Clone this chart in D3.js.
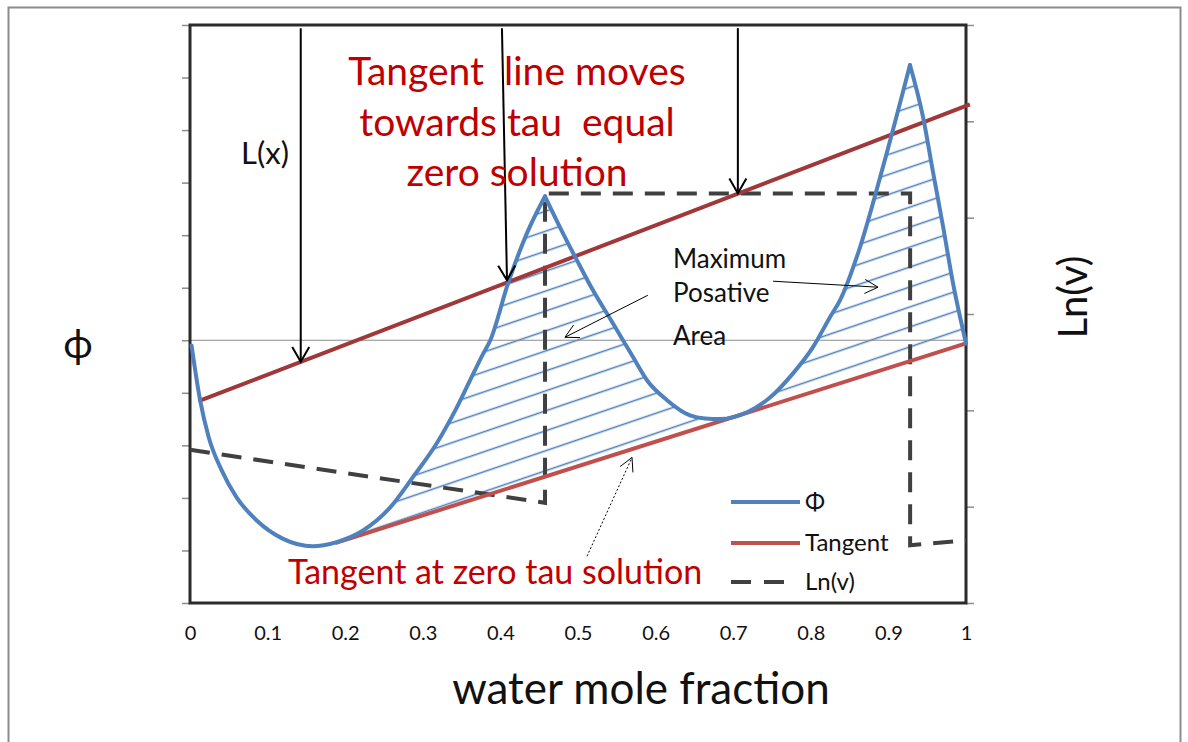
<!DOCTYPE html>
<html>
<head>
<meta charset="utf-8">
<script src="https://cdn.jsdelivr.net/npm/d3@7"></script>
<style>
  body { margin: 0; background: #fff; }
  svg { display: block; }
  text { font-family: Lato, "Open Sans", "Liberation Sans", sans-serif; }
</style>
</head>
<body>
<svg id="chart" width="1188" height="742"></svg>
<script>
// ---- data -------------------------------------------------------------
// Φ(x) against water mole fraction, in three branches split at the two cusps
const phiBranch1X = [0.002, 0.013, 0.024, 0.041, 0.060, 0.086, 0.120, 0.158, 0.189, 0.223, 0.258, 0.287, 0.318, 0.342, 0.361, 0.378, 0.387, 0.410, 0.434, 0.4575];
const phiBranch1Y = [-0.10, -1.14, -1.84, -2.48, -2.99, -3.43, -3.78, -3.92, -3.84, -3.62, -3.18, -2.61, -1.96, -1.33, -0.76, -0.25, 0.00, 1.09, 2.03, 2.74];
const phiBranch2X = [0.4575, 0.4768, 0.4987, 0.5193, 0.5451, 0.5709, 0.5889, 0.6147, 0.6443, 0.6637, 0.6830, 0.7178, 0.7474, 0.7771, 0.8028, 0.8247, 0.8376, 0.8634, 0.8930, 0.9278];
const phiBranch2Y = [2.74, 2.15, 1.52, 0.95, 0.32, -0.32, -0.76, -1.14, -1.43, -1.49, -1.50, -1.37, -1.09, -0.63, -0.13, 0.44, 0.76, 1.77, 3.30, 5.24];
const phiBranch3X = [0.9278, 0.9446, 0.9575, 0.9704, 0.9832, 1.0];
const phiBranch3Y = [5.24, 4.25, 3.20, 2.17, 1.09, -0.06];

// tangent at the zero-tau solution (lower) and the moving tangent L(x) (upper)
const tangentZeroX = [0.187, 1.0];
const tangentZeroY = [-3.86, -0.06];
const tangentMovingX = [0.011, 1.005];
const tangentMovingY = [-1.16, 4.49];

// ln(v), read on the right-hand axis
const lnvX = [0, 0.4575, 0.4575, 0.928, 0.928, 1.0];
const lnvY = [1.59, 1.04, 4.25, 4.25, 0.60, 0.65];

// axis ticks
const xTickValues = [0, 0.1, 0.2, 0.3, 0.4, 0.5, 0.6, 0.7, 0.8, 0.9, 1];
const leftTickValues = [-5, -4, -3, -2, -1, 0, 1, 2, 3, 4, 5, 6];
const rightTickValues = [0, 1, 2, 3, 4, 5, 6];

// vertical L(x) arrows: x position, start and tip (Φ units)
const lArrowX0 = [0.1427, 0.402, 0.706];
const lArrowX1 = [0.1427, 0.4085, 0.706];
const lArrowY0 = [5.94, 5.94, 5.94];
const lArrowY1 = [-0.41, 1.14, 2.80];

// ---- layout -----------------------------------------------------------
const svg = d3.select("#chart");
const plot = { left: 190, top: 25, right: 966, bottom: 603 };

const x = d3.scaleLinear().domain([0, 1]).range([plot.left, plot.right]);
const yL = d3.scaleLinear().domain([-5, 6]).range([plot.bottom, plot.top]);
const yR = d3.scaleLinear().domain([0, 6]).range([plot.bottom, plot.top]);

const colors = {
  phi: "#4F81BD",
  tangent: "#C0504D",
  moving: "#A0383A",
  lnv: "#404040",
  note: "#C00000"
};

// outer frame of the figure
svg.append("rect")
  .attr("x", 8.5).attr("y", 7.5).attr("width", 1172).attr("height", 760)
  .attr("fill", "#fff").attr("stroke", "#8c8c8c").attr("stroke-width", 2);

const defs = svg.append("defs");

// hatch used for the positive area between Φ and the zero-tau tangent
const hatchAngle = Math.atan(-0.34) * 180 / Math.PI;
const hatch = defs.append("pattern")
  .attr("id", "hatch")
  .attr("patternUnits", "userSpaceOnUse")
  .attr("width", 200).attr("height", 18.9)
  .attr("patternTransform", `rotate(${hatchAngle})`);
hatch.append("rect")
  .attr("x", 0).attr("y", 15.7).attr("width", 200).attr("height", 1.6)
  .attr("fill", colors.phi);

const zip = (xs, ys) => xs.map((v, i) => [v, ys[i]]);
const branches = [
  zip(phiBranch1X, phiBranch1Y),
  zip(phiBranch2X, phiBranch2Y),
  zip(phiBranch3X, phiBranch3Y)
];

const phiLine = d3.line()
  .x(d => x(d[0])).y(d => yL(d[1]))
  .curve(d3.curveMonotoneX);

// region between Φ and the zero-tau tangent
const tz = zip(tangentZeroX, tangentZeroY);
const regionParts = [
  branches[0].filter(d => d[0] >= tangentZeroX[0]),
  branches[1],
  branches[2]
].map((pts, i) => {
  const d = phiLine(pts);
  return i === 0 ? d : "L" + d.slice(1);
});
const regionPath = regionParts.join("") +
  `L${x(tz[1][0])},${yL(tz[1][1])}L${x(tz[0][0])},${yL(tz[0][1])}Z`;

defs.append("clipPath").attr("id", "areaClip")
  .append("path").attr("d", regionPath);

svg.append("rect")
  .attr("x", plot.left).attr("y", plot.top)
  .attr("width", plot.right - plot.left).attr("height", plot.bottom - plot.top)
  .attr("fill", "url(#hatch)")
  .attr("clip-path", "url(#areaClip)");

// zero line of Φ
svg.append("line")
  .attr("x1", plot.left).attr("x2", plot.right)
  .attr("y1", yL(0)).attr("y2", yL(0))
  .attr("stroke", "#8c8c8c").attr("stroke-width", 1.2);

// axes
const axisL = svg.append("g")
  .attr("transform", `translate(${plot.left},0)`)
  .call(d3.axisLeft(yL).tickValues(leftTickValues).tickSize(8).tickFormat(""));
const axisR = svg.append("g")
  .attr("transform", `translate(${plot.right},0)`)
  .call(d3.axisRight(yR).tickValues(rightTickValues).tickSize(8).tickFormat(""));
const axisB = svg.append("g")
  .attr("transform", `translate(0,${plot.bottom})`)
  .call(d3.axisBottom(x).tickValues(xTickValues).tickSize(0).tickPadding(23)
    .tickFormat(d3.format("")));
[axisL, axisR, axisB].forEach(g => {
  g.select(".domain").remove();
  g.selectAll(".tick line").attr("stroke", "#8c8c8c").attr("stroke-width", 1.5);
});
axisB.selectAll(".tick text")
  .attr("font-family", "Lato, sans-serif").attr("font-size", 20).attr("fill", "#111");

// plot frame
svg.append("rect")
  .attr("x", plot.left).attr("y", plot.top)
  .attr("width", plot.right - plot.left).attr("height", plot.bottom - plot.top)
  .attr("fill", "none").attr("stroke", "#2b2b2b").attr("stroke-width", 3);

// ln(v) step line
const lnvLine = d3.line().x(d => x(d[0])).y(d => yR(d[1]));
svg.append("path")
  .attr("d", lnvLine(zip(lnvX, lnvY)))
  .attr("fill", "none").attr("stroke", colors.lnv)
  .attr("stroke-width", 4).attr("stroke-dasharray", "20 12");

// tangents
const straight = d3.line().x(d => x(d[0])).y(d => yL(d[1]));
svg.append("path")
  .attr("d", straight(zip(tangentMovingX, tangentMovingY)))
  .attr("fill", "none").attr("stroke", colors.moving).attr("stroke-width", 4);
svg.append("path")
  .attr("d", straight(tz))
  .attr("fill", "none").attr("stroke", colors.tangent).attr("stroke-width", 4);

// Φ curve
branches.forEach(pts => {
  svg.append("path")
    .attr("d", phiLine(pts))
    .attr("fill", "none").attr("stroke", colors.phi)
    .attr("stroke-width", 4).attr("stroke-linejoin", "round").attr("stroke-linecap", "round");
});

// open arrow helper
function arrow(x0, y0, x1, y1, opts = {}) {
  const g = svg.append("g")
    .attr("stroke", opts.color || "#000")
    .attr("stroke-width", opts.width || 2)
    .attr("fill", "none");
  const line = g.append("line")
    .attr("x1", x0).attr("y1", y0).attr("x2", x1).attr("y2", y1);
  if (opts.dash) line.attr("stroke-dasharray", opts.dash);
  const len = opts.head || 17, ang = (opts.angle || 30) * Math.PI / 180;
  const a = Math.atan2(y0 - y1, x0 - x1);
  g.append("path")
    .attr("d", `M${x1 + len * Math.cos(a + ang)},${y1 + len * Math.sin(a + ang)}` +
               `L${x1},${y1}` +
               `L${x1 + len * Math.cos(a - ang)},${y1 + len * Math.sin(a - ang)}`)
    .attr("stroke-width", opts.headWidth || opts.width || 2);
}

lArrowX0.forEach((v, i) => {
  arrow(x(v), yL(lArrowY0[i]), x(lArrowX1[i]), yL(lArrowY1[i]), { width: 2, head: 17, angle: 30 });
});

// "Maximum Posative Area" pointers
arrow(x(0.590), yL(0.857), x(0.4832), yL(0.057), { width: 1, head: 15, angle: 28 });
arrow(x(0.7513), yL(1.124), x(0.8866), yL(1.01), { width: 1, head: 15, angle: 28 });
// pointer to the zero-tau tangent
arrow(x(0.5116), yL(-4.11), x(0.5696), yL(-2.23), { width: 1, head: 15, angle: 28, dash: "2 2", headWidth: 1 });

// annotations
svg.append("text").attr("x", 241).attr("y", 164)
  .attr("font-size", 31).attr("fill", "#111").text("L(x)");

const title = svg.append("text")
  .attr("text-anchor", "middle").attr("font-size", 39).attr("fill", colors.note);
["Tangent  line moves", "towards tau  equal", "zero solution"].forEach((t, i) => {
  title.append("tspan").attr("x", 517).attr("y", 85 + i * 50.5)
    .attr("xml:space", "preserve").style("white-space", "pre").text(t);
});

const maxText = svg.append("text").attr("font-size", 26).attr("fill", "#111");
[["Maximum", 268], ["Posative", 302], ["Area", 345]].forEach(([t, yy]) => {
  maxText.append("tspan").attr("x", 673).attr("y", yy).text(t);
});

svg.append("text").attr("x", 288).attr("y", 584)
  .attr("font-size", 34).attr("fill", colors.note).text("Tangent at zero tau solution");

// legend
const legendItems = [
  { label: "Φ", color: colors.phi, dash: null, y: 502, x2: 800 },
  { label: "Tangent", color: colors.tangent, dash: null, y: 543, x2: 800 },
  { label: "Ln(v)", color: colors.lnv, dash: "20 13", y: 582, x2: 785 }
];
legendItems.forEach(it => {
  const ln = svg.append("line")
    .attr("x1", 731).attr("x2", it.x2).attr("y1", it.y).attr("y2", it.y)
    .attr("stroke", it.color).attr("stroke-width", 4);
  if (it.dash) ln.attr("stroke-dasharray", it.dash);
  svg.append("text").attr("x", 805).attr("y", it.y + 8)
    .attr("font-size", 24).attr("fill", "#111").text(it.label);
});

// axis titles
svg.append("text").attr("x", 78).attr("y", 358)
  .attr("text-anchor", "middle").attr("font-size", 40)
  .attr("font-family", "DejaVu Sans, sans-serif").attr("fill", "#111").text("ϕ");
svg.append("text")
  .attr("transform", "translate(1087,297) rotate(-90)")
  .attr("text-anchor", "middle").attr("font-size", 40).attr("fill", "#111").text("Ln(v)");
svg.append("text").attr("x", 641).attr("y", 704)
  .attr("text-anchor", "middle").attr("font-size", 44).attr("fill", "#111").text("water mole fraction");
</script>
</body>
</html>
